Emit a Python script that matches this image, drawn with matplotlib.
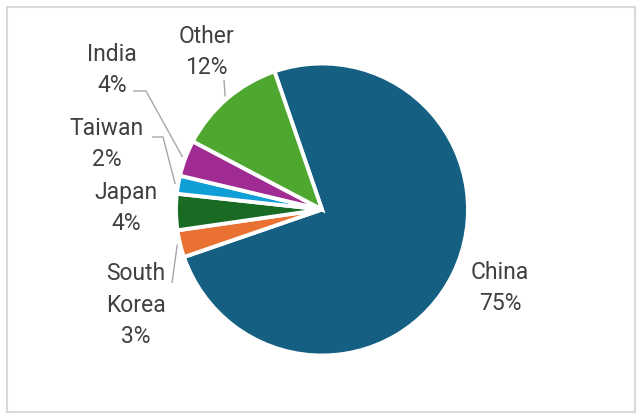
import numpy as np
import matplotlib.pyplot as plt
from matplotlib.patches import Rectangle

# share by country (%)
countries = ["China", "South\nKorea", "Japan", "Taiwan", "India", "Other"]
shares = [75, 3, 4, 2, 4, 12]
colors = ["#156082", "#E97132", "#196B24", "#0F9ED5", "#A02B93", "#4EA72E"]

W, H = 640, 417
fig = plt.figure(figsize=(W / 100, H / 100), dpi=100)
ax = fig.add_axes([0, 0, 1, 1])

cx, cy, r = 322, 209.5, 146
# y axis is flipped, so counterclock=True draws clockwise on screen
wedges, _ = ax.pie(shares, colors=colors, startangle=-109, counterclock=True,
                   center=(cx, cy), radius=r, frame=True,
                   wedgeprops=dict(edgecolor="white", linewidth=2.8))
ax.set_xlim(0, W)
ax.set_ylim(H, 0)
ax.set_aspect('auto')
ax.axis('off')

# label centres (pixels) and leader line elbows
label_pos = [(500, 288), (136, 305), (126, 208), (107, 144), (112, 70), (206, 52)]
leaders = {
    1: [(172, 283)],
    3: [(152, 137), (163, 137)],
    4: [(133, 91), (146, 91)],
    5: [(224, 80)],
}

txt_color = "#404040"
for i, (name, val) in enumerate(zip(countries, shares)):
    x, y = label_pos[i]
    ax.text(x, y, f"{name}\n{val}%", ha='center', va='center',
            multialignment='center', fontsize=16.5, color=txt_color,
            family=["Roboto", "DejaVu Sans"], linespacing=1.45)
    if i in leaders:
        w = wedges[i]
        mid = np.deg2rad((w.theta1 + w.theta2) / 2)
        end = (cx + 1.02 * r * np.cos(mid), cy + 1.02 * r * np.sin(mid))
        xs, ys = zip(*(leaders[i] + [end]))
        ax.plot(xs, ys, color="#A6A6A6", lw=1.0, solid_capstyle='butt')

fig.add_artist(Rectangle((7 / W, 1 - 412 / H), 628 / W, 405 / H,
                         transform=fig.transFigure, fill=False,
                         edgecolor="#D9D9D9", lw=1.5))

fig.savefig("out.png", dpi=100)
